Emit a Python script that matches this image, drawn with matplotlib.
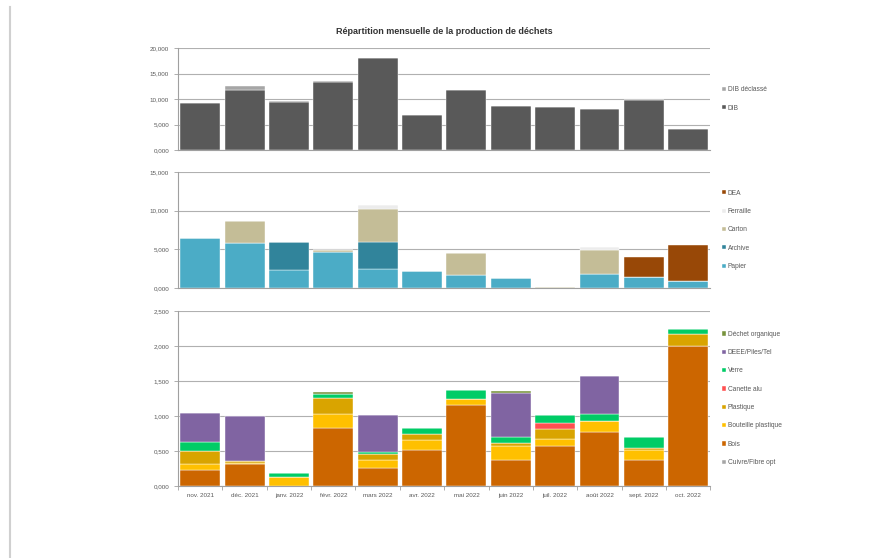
import numpy as np
import matplotlib
matplotlib.use("Agg")
import matplotlib.pyplot as plt
from matplotlib.ticker import FuncFormatter
from matplotlib.lines import Line2D

plt.rcParams['font.family'] = ['Liberation Sans', 'DejaVu Sans']

mois = ["nov. 2021", "déc. 2021", "janv. 2022", "févr. 2022", "mars 2022", "avr. 2022",
        "mai 2022", "juin 2022", "juil. 2022", "août 2022", "sept. 2022", "oct. 2022"]

# tonnages (t)
dib = [9.2, 11.7, 9.5, 13.4, 17.95, 6.9, 11.8, 8.7, 8.5, 8.05, 9.85, 4.15]
dib_declasse = [0.1, 0.95, 0.1, 0.1, 0, 0, 0, 0, 0, 0, 0, 0]

papier = [6.45, 5.8, 2.35, 4.65, 2.45, 2.25, 1.65, 1.3, 0, 1.85, 1.4, 0.95]
archive = [0, 0, 3.55, 0, 3.5, 0, 0, 0, 0, 0, 0, 0]
carton = [0, 2.8, 0, 0.3, 4.2, 0, 2.9, 0, 0.06, 3.0, 0, 0]
ferraille = [0, 0, 0, 0, 0.55, 0, 0, 0, 0, 0.4, 0, 0]
dea = [0, 0, 0, 0, 0, 0, 0, 0, 0, 0, 2.6, 4.65]

cuivre = [0] * 12
bois = [0.224, 0.32, 0, 0.833, 0.252, 0.51, 1.162, 0.367, 0.576, 0.776, 0.367, 2.0]
bouteille = [0.086, 0.01, 0.13, 0.19, 0.115, 0.142, 0.086, 0.204, 0.091, 0.153, 0.147, 0.0]
plastique = [0.19, 0.02, 0.0, 0.228, 0.095, 0.086, 0, 0.048, 0.143, 0, 0.024, 0.167]
canette = [0, 0, 0, 0, 0, 0, 0, 0, 0.095, 0, 0, 0]
verre = [0.133, 0, 0.05, 0.067, 0.028, 0.086, 0.119, 0.081, 0.114, 0.095, 0.162, 0.076]
deee = [0.41, 0.655, 0, 0, 0.529, 0, 0, 0.629, 0, 0.547, 0, 0]
organique = [0, 0, 0, 0.024, 0, 0, 0, 0.02, 0, 0, 0, 0]

x = np.arange(len(mois))
grey = '#a0a0a0'
txt = '#595959'


def fmt(v, pos):
    return ("%.3f" % v).replace('.', ',')


def stack(ax, series, ymax, step):
    bottom = np.zeros(len(mois))
    for label, vals, col in series:
        ax.bar(x, vals, 0.9, bottom=bottom, color=col, label=label,
               edgecolor='white', linewidth=0.3)
        bottom += np.array(vals)
    ax.set_xlim(-0.5, len(mois) - 0.5)
    ax.set_ylim(0, ymax)
    ax.set_yticks(np.arange(0, ymax + step / 2, step))
    ax.yaxis.set_major_formatter(FuncFormatter(fmt))
    ax.grid(axis='y', color='#b0b0b0', linewidth=0.8)
    ax.set_axisbelow(True)
    for s in ['top', 'right']:
        ax.spines[s].set_visible(False)
    ax.spines['left'].set_color(grey)
    ax.spines['bottom'].set_color(grey)
    ax.tick_params(axis='y', labelsize=4.5, colors=grey, labelcolor=txt, length=3, width=0.6)
    h, l = ax.get_legend_handles_labels()
    ax.legend(h[::-1], l[::-1], loc='center left', bbox_to_anchor=(1.01, 0.5),
              frameon=False, fontsize=4.8, handlelength=0.6, handleheight=0.6,
              handletextpad=0.3, labelspacing=1.7, labelcolor=txt)


fig = plt.figure(figsize=(8.77, 5.58), dpi=100)

ax1 = fig.add_axes([0.203, 0.731, 0.607, 0.183])
stack(ax1, [("DIB", dib, '#595959'), ("DIB déclassé", dib_declasse, '#a6a6a6')], 20, 5)
ax1.set_xticks([])
ax1.set_title("Répartition mensuelle de la production de déchets", fontsize=6.5,
              fontweight='bold', color='#333333', pad=10)

ax2 = fig.add_axes([0.203, 0.484, 0.607, 0.208])
stack(ax2, [("Papier", papier, '#4bacc6'), ("Archive", archive, '#31849b'),
            ("Carton", carton, '#c4bd97'), ("Ferraille", ferraille, '#ececec'),
            ("DEA", dea, '#984807')], 15, 5)
ax2.set_xticks([])

ax3 = fig.add_axes([0.203, 0.129, 0.607, 0.314])
stack(ax3, [("Cuivre/Fibre opt", cuivre, '#a6a6a6'), ("Bois", bois, '#cc6600'),
            ("Bouteille plastique", bouteille, '#ffc000'), ("Plastique", plastique, '#d9a400'),
            ("Canette alu", canette, '#ff5050'), ("Verre", verre, '#00cc66'),
            ("DEEE/Piles/Tel", deee, '#8064a2'), ("Déchet organique", organique, '#77933c')],
      2.5, 0.5)
ax3.set_xticks(x)
ax3.set_xticklabels(mois)
ax3.set_xticks(np.arange(-0.5, len(mois)), minor=True)
ax3.tick_params(axis='x', which='major', length=0, labelsize=4.5, labelcolor=txt, pad=5)
ax3.tick_params(axis='x', which='minor', length=3, color=grey, width=0.6)

# page border on the left
fig.add_artist(Line2D([0.011, 0.011], [0, 0.988], color='#d0d0d0', linewidth=1.5))

fig.savefig("out.png", dpi=100)
